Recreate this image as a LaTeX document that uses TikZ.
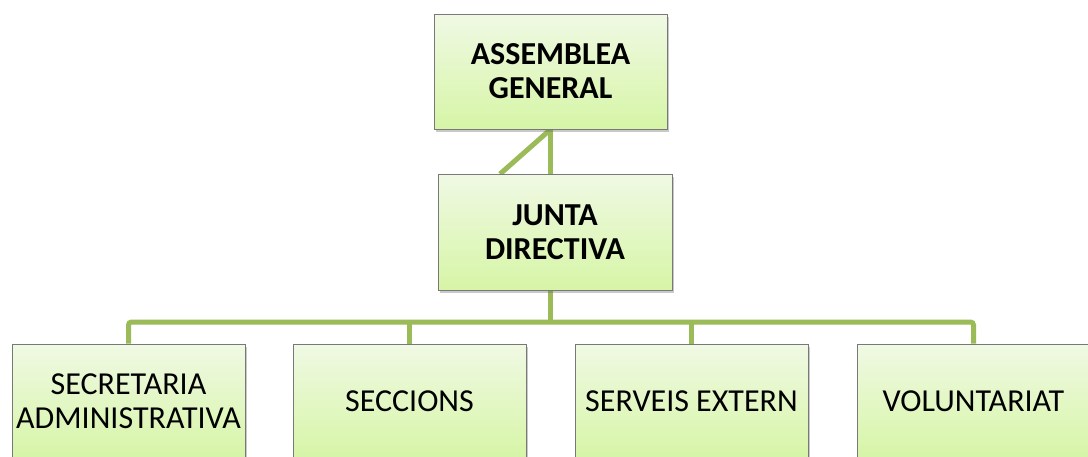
\documentclass[tikz,border=0pt]{standalone}
\usepackage{fontspec}
\setmainfont{Carlito}
\usetikzlibrary{shadows}
\pgfdeclarelayer{bg}
\pgfdeclarelayer{canvas}
\pgfsetlayers{canvas,bg,main}
\definecolor{conn}{RGB}{155,187,89}
\definecolor{boxtop}{RGB}{240,249,228}
\definecolor{boxbot}{RGB}{214,245,166}
\definecolor{boxline}{RGB}{120,120,120}
\tikzset{
  orgbox/.style={rectangle, draw=boxline, line width=0.8pt, top color=boxtop, bottom color=boxbot,
    minimum width=233pt, minimum height=115pt, align=center, inner sep=0pt,
    font=\fontsize{32}{34}\selectfont,
    drop shadow={shadow xshift=2pt, shadow yshift=-2.5pt, opacity=0.35, fill=black!60}},
  headbox/.style={orgbox, font=\fontsize{32}{34}\selectfont\bfseries},
  link/.style={draw=conn, line width=5pt, rounded corners=3pt}
}
\begin{document}
\begin{tikzpicture}[x=1pt,y=-1pt]
\useasboundingbox (0,0) rectangle (1088,456);
\clip (0,0) rectangle (1088,456);
\begin{pgfonlayer}{canvas}
\fill[white] (0,0) rectangle (1088,456);
\end{pgfonlayer}
\node[headbox] (ag) at (550.5,71.5) {ASSEMBLEA\\GENERAL};
\node[headbox, minimum width=234pt, minimum height=116pt] (jd) at (555,232) {JUNTA\\DIRECTIVA};
\node[orgbox] (s1) at (128.5,401.5) {SECRETARIA\\ADMINISTRATIVA};
\node[orgbox] (s2) at (409.5,401.5) {SECCIONS};
\node[orgbox] (s3) at (691.5,401.5) {SERVEIS EXTERN};
\node[orgbox] (s4) at (973.5,401.5) {VOLUNTARIAT};
\coordinate (diag) at (500,174);
\coordinate (bus) at (550.5,322);
\begin{pgfonlayer}{bg}
\draw[link] (ag.south) -- (ag.south |- jd.north);
\draw[link] (ag.south) -- (diag);
\draw[link] (ag.south |- jd.south) -- (bus);
\draw[link] (s1.north) -- (s1.north |- bus) -- (s4.north |- bus) -- (s4.north);
\draw[link] (s2.north |- bus) -- (s2.north);
\draw[link] (s3.north |- bus) -- (s3.north);
\end{pgfonlayer}
\end{tikzpicture}
\end{document}
